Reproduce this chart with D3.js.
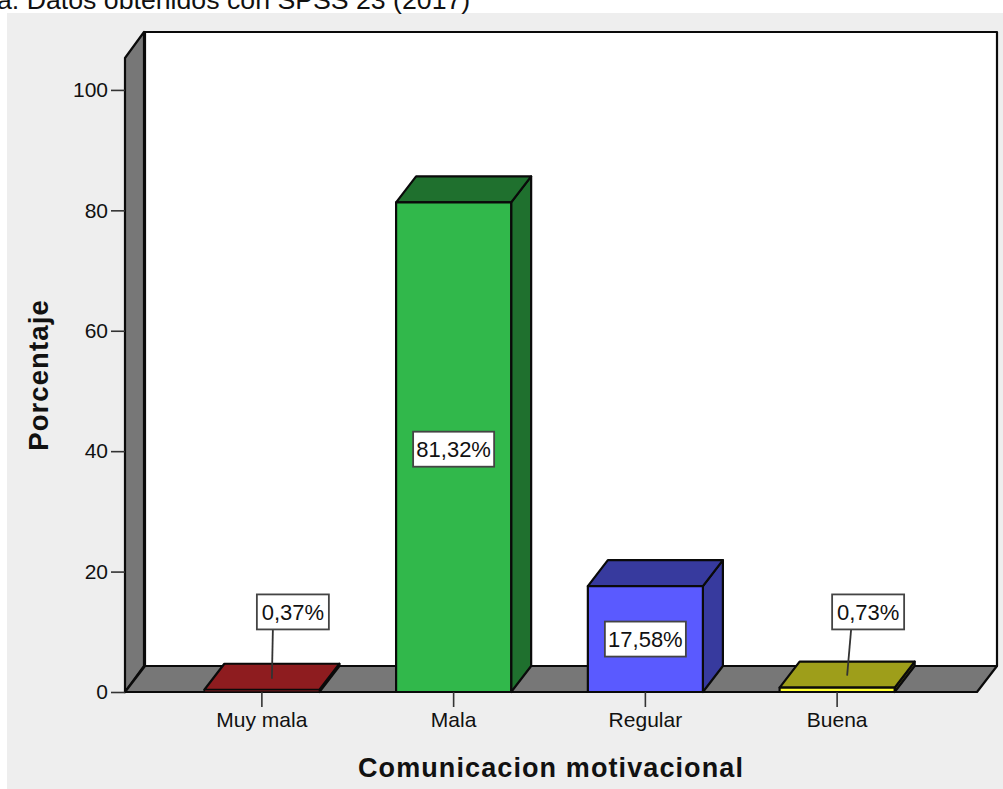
<!DOCTYPE html>
<html><head><meta charset="utf-8">
<script src="https://cdn.jsdelivr.net/npm/d3@7"></script>
<style>html,body{margin:0;padding:0;background:#fff;overflow:hidden}svg{display:block}text{font-family:"Liberation Sans",Arial,sans-serif;fill:#111}</style>
</head><body>
<script>
const categories = ["Muy mala","Mala","Regular","Buena"];
const percentages = [0.37,81.32,17.58,0.73];
const valueLabels = ["0,37%","81,32%","17,58%","0,73%"];
const frontColors = ["#a02024","#31b84b","#5a5aff","#ffff33"];
const topColors = ["#8e1c1f","#1f702e","#373a9e","#9e9e1a"];
const sideColors = ["#6e1518","#1f702e","#373a9e","#55550c"];
const yTicks = [0,20,40,60,80,100];
const yTitle = "Porcentaje";
const xTitle = "Comunicacion motivacional";
const note = "a. Datos obtenidos con SPSS 23 (2017)";

const W=1003,H=789, dx=20, dy=-26;
const svg=d3.select("body").append("svg").attr("width",W).attr("height",H);
const y=d3.scaleLinear().domain([0,105.3]).range([692,58]);
const x=d3.scaleBand().domain(categories).range([166,933]).paddingInner(0.4).paddingOuter(0.2);
const left=125,right=977,y0=y(0),yT=y(105.3);
const line="#0a0a0a";
const poly=(pts,fill,sw=2.2)=>svg.append("polygon").attr("points",pts.map(p=>p.join(",")).join(" "))
  .attr("fill",fill).attr("stroke",line).attr("stroke-width",sw).attr("stroke-linejoin","round");

svg.append("rect").attr("x",7).attr("y",13).attr("width",W-7).attr("height",H-13).attr("fill","#eeeeee");
svg.append("text").attr("x",-3).attr("y",9).attr("font-size",26.7).text(note);

// walls and floor
poly([[left+dx,yT+dy],[right+dx,yT+dy],[right+dx,y0+dy],[left+dx,y0+dy]],"#ffffff");
poly([[left,yT],[left+dx-1,yT+dy],[left+dx-1,y0+dy],[left,y0]],"#777777");
poly([[left,y0],[left+dx,y0+dy],[right+dx,y0+dy],[right,y0]],"#777777");

// bars
categories.forEach((c,i)=>{
  const x0=x(c),x1=x0+x.bandwidth(),yv=y(percentages[i]);
  poly([[x1,yv],[x1+dx,yv+dy],[x1+dx,y0+dy],[x1,y0]],sideColors[i]);
  poly([[x0,yv],[x0+dx,yv+dy],[x1+dx,yv+dy],[x1,yv]],topColors[i]);
  poly([[x0,yv],[x1,yv],[x1,y0],[x0,y0]],frontColors[i],percentages[i]<0.5?1.5:2.2);
});

// axes
const gy=svg.append("g").attr("transform",`translate(${left},0)`)
  .call(d3.axisLeft(y).tickValues(yTicks).tickSize(14).tickPadding(3));
const gx=svg.append("g").attr("transform",`translate(0,${y0})`)
  .call(d3.axisBottom(x).tickSize(15).tickPadding(5));
[gy,gx].forEach(g=>{
  g.select(".domain").remove();
  g.selectAll("line").attr("stroke","#333").attr("stroke-width",1.6);
  g.selectAll("text").attr("font-size",21).attr("font-family","Liberation Sans").attr("fill","#222");
});

// value labels
categories.forEach((c,i)=>{
  const cx=x(c)+x.bandwidth()/2, v=percentages[i];
  const small=v<5;
  const bx=small?cx+31:cx, by=small?y(13.3):y(v/2)+(v>50?2:0);
  const bw=small?72:81, bh=35;
  if(small){
    const tipY=y(v)+dy/2+(i===3?1:2);
    svg.append("line").attr("x1",bx-(i===3?17:20)).attr("y1",by+bh/2)
      .attr("x2",cx+10).attr("y2",tipY).attr("stroke","#333").attr("stroke-width",1.8);
  }
  svg.append("rect").attr("x",bx-bw/2).attr("y",by-bh/2).attr("width",bw).attr("height",bh)
    .attr("fill","#fff").attr("stroke","#444").attr("stroke-width",1.8);
  svg.append("text").attr("x",bx).attr("y",by+8).attr("text-anchor","middle").attr("font-size",22).text(valueLabels[i]);
});

// titles
svg.append("text").attr("x",551).attr("y",777).attr("text-anchor","middle").attr("font-size",27)
  .attr("font-weight","bold").attr("letter-spacing",1.1).text(xTitle);
svg.append("text").attr("transform","translate(48,375) rotate(-90)").attr("text-anchor","middle").attr("font-size",27.5)
  .attr("font-weight","bold").attr("letter-spacing",1.1).text(yTitle);
</script>
</body></html>
